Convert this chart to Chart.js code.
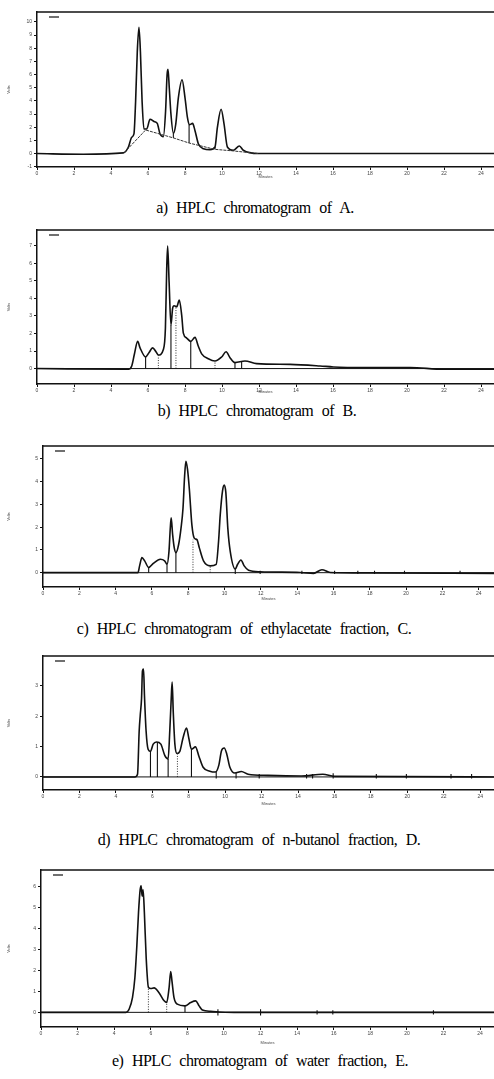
<!DOCTYPE html>
<html>
<head>
<meta charset="utf-8">
<script src="https://cdn.jsdelivr.net/npm/chart.js@4.4.1/dist/chart.umd.min.js"></script>
<style>
  body { margin: 0; background: #fff; }
  #page { position: relative; width: 494px; height: 1079px; overflow: hidden; }
  canvas { position: absolute; left: 0; }
  .cap { position: absolute; width: 500px; text-align: center; font-family: "Liberation Serif", "DejaVu Serif", serif;
         font-size: 16px; line-height: 18px; color: #000; white-space: nowrap; word-spacing: 5px; letter-spacing: -0.5px; }
</style>
</head>
<body>
<div id="page">
  <canvas id="ca"></canvas>
  <canvas id="cb"></canvas>
  <canvas id="cc"></canvas>
  <canvas id="cd"></canvas>
  <canvas id="ce"></canvas>
  <div class="cap" style="top:199px;left:5px">a) HPLC chromatogram of A.</div>
  <div class="cap" style="top:402px;left:7px">b) HPLC chromatogram of B.</div>
  <div class="cap" style="top:620px;left:-6px">c) HPLC chromatogram of ethylacetate fraction, C.</div>
  <div class="cap" style="top:831px;left:9px">d) HPLC chromatogram of n-butanol fraction, D.</div>
  <div class="cap" style="top:1052px;left:10px">e) HPLC chromatogram of water fraction, E.</div>
</div>
<script>
// tick labels
const timeTicks = [0, 2, 4, 6, 8, 10, 12, 14, 16, 18, 20, 22, 24];
const aLevels = [-1, 0, 1, 2, 3, 4, 5, 6, 7, 8, 9, 10];
const bLevels = [0, 1, 2, 3, 4, 5, 6, 7];
const cLevels = [0, 1, 2, 3, 4, 5];
const dLevels = [0, 1, 2, 3];
const eLevels = [0, 1, 2, 3, 4, 5, 6];

// a) retention time (min) and detector signal
const aTime = [0, 2.5, 4.67, 4.94, 5.12, 5.24, 5.33, 5.42, 5.51, 5.59, 5.68, 5.78, 5.93, 6.11, 6.32, 6.5, 6.65, 6.83, 6.95, 7.03,
  7.08, 7.15, 7.24, 7.37, 7.5, 7.64, 7.84, 8.0, 8.13, 8.23, 8.41, 8.54, 8.72, 9.0, 9.35, 9.62, 9.75, 9.95, 10.11, 10.29,
  10.61, 10.94, 11.15, 11.96, 24.7];
const aSignal = [0, -0.05, 0.05, 0.5, 1.24, 1.49, 3.98, 7.71, 9.58, 7.71, 3.98, 1.87, 1.87, 2.61, 2.44, 2.29, 1.49, 1.29, 3.23, 5.97,
  6.39, 4.98, 2.99, 1.54, 2.24, 4.23, 5.6, 4.23, 2.74, 2.19, 2.29, 1.74, 0.75, 0.37, 0.3, 0.5, 1.99, 3.36, 2.24, 0.5,
  0.25, 0.57, 0.25, 0, 0];
const aBaseT = [4.7, 5.87, 7.37, 8.22, 9.62, 10.61, 11.96];
const aBaseY = [0.05, 1.79, 1.19, 0.8, 0.32, 0.2, 0];
const aDropT = [7.37, 8.22, 9.62];
const aDropLo = [1.19, 0.8, 0.32];
const aDropHi = [1.54, 2.19, 0.5];
const aDotT = [];
const aDotHi = [];

// b)
const bTime = [0, 4.94, 5.12, 5.26, 5.44, 5.57, 5.87, 6.05, 6.25, 6.43, 6.56, 6.83, 6.94, 7.01, 7.06, 7.14, 7.24, 7.33, 7.41, 7.55,
  7.69, 7.82, 7.91, 8.09, 8.31, 8.54, 8.72, 8.9, 9.26, 9.62, 9.98, 10.22, 10.43, 10.7, 11.24, 11.87, 13.68, 15.3, 16.02, 17.82,
  20.16, 21.96, 24.7];
const bSignal = [0, -0.04, 0.15, 0.8, 1.55, 1.18, 0.66, 0.9, 1.18, 0.96, 0.77, 1.09, 2.3, 5.67, 6.98, 4.93, 2.49, 3.43, 3.58, 3.52,
  3.9, 3.05, 2.02, 1.74, 1.55, 1.78, 1.27, 0.84, 0.56, 0.43, 0.66, 0.96, 0.62, 0.34, 0.43, 0.28, 0.24, 0.15, 0.09, 0.06,
  0.06, -0.04, -0.04];
const bDropT = [5.87, 7.24, 8.31, 10.7, 11.06];
const bDropLo = [0, 0, 0, 0, 0];
const bDropHi = [0.66, 2.49, 1.55, 0.34, 0.42];
const bDotT = [6.56, 7.51, 9.62];
const bDotHi = [0.77, 3.52, 0.43];

// c) ethylacetate fraction
const cTime = [0, 5.23, 5.32, 5.45, 5.6, 5.82, 6.09, 6.46, 6.7, 6.83, 6.94, 7.01, 7.06, 7.14, 7.23, 7.32, 7.47, 7.6, 7.71, 7.8,
  7.87, 7.96, 8.06, 8.2, 8.33, 8.48, 8.61, 8.84, 9.21, 9.54, 9.67, 9.76, 9.89, 9.98, 10.07, 10.18, 10.31, 10.59, 10.72, 10.9,
  11.08, 11.32, 11.96, 14.17, 14.9, 15.36, 15.82, 17.83, 24.84];
const cSignal = [0, 0, 0.3, 0.66, 0.52, 0.23, 0.42, 0.59, 0.52, 0.37, 0.95, 1.95, 2.41, 1.67, 1.09, 0.88, 1.24, 1.95, 2.82, 4.25,
  4.9, 4.54, 3.68, 2.1, 1.52, 1.45, 1.09, 0.52, 0.3, 0.37, 1.38, 2.53, 3.61, 3.85, 3.53, 1.95, 0.95, 0.16, 0.37, 0.56,
  0.3, 0.11, 0.04, 0.01, -0.03, 0.13, 0.01, -0.01, -0.03];
const cDropT = [5.82, 6.83, 7.32, 10.59, 11.96, 14.26, 16.06, 17.34, 18.26, 19.91, 22.97];
const cDropLo = [0, 0, 0, -0.06, -0.06, -0.06, -0.06, -0.06, -0.06, -0.06, -0.06];
const cDropHi = [0.23, 0.37, 0.88, 0.16, 0.08, 0.08, 0.08, 0.08, 0.08, 0.08, 0.08];
const cDotT = [8.26, 9.21];
const cDotHi = [1.45, 0.3];

// d) n-butanol fraction
const dTime = [0, 5.04, 5.19, 5.28, 5.34, 5.41, 5.46, 5.52, 5.57, 5.66, 5.77, 5.9, 6.05, 6.23, 6.47, 6.69, 6.87, 6.96, 7.04, 7.09,
  7.15, 7.24, 7.36, 7.51, 7.69, 7.88, 8.0, 8.15, 8.37, 8.55, 8.79, 9.16, 9.47, 9.65, 9.8, 9.95, 10.09, 10.26, 10.53, 10.89,
  11.26, 12.35, 14.18, 15.36, 16.0, 24.76];
const dSignal = [0, 0, 0.09, 1.51, 2.04, 2.58, 3.49, 3.55, 2.69, 1.51, 0.91, 0.84, 1.08, 1.15, 1.08, 0.7, 0.59, 1.51, 2.58, 3.12,
  2.15, 1.08, 0.77, 0.84, 1.29, 1.61, 1.29, 0.91, 0.99, 0.7, 0.32, 0.19, 0.16, 0.38, 0.86, 0.95, 0.75, 0.32, 0.13, 0.18,
  0.09, 0.05, 0.03, 0.09, 0.02, 0];
const dDropT = [5.9, 6.28, 6.87, 8.15, 9.51, 10.6, 11.87, 14.47, 14.8, 15.93, 18.3, 19.95, 22.4, 23.53];
const dDropLo = [0, 0, 0, 0, -0.05, -0.05, -0.05, -0.05, -0.05, -0.05, -0.05, -0.05, -0.05, -0.05];
const dDropHi = [0.84, 1.14, 0.59, 0.91, 0.18, 0.15, 0.1, 0.1, 0.1, 0.12, 0.1, 0.1, 0.1, 0.1];
const dDotT = [7.38];
const dDotHi = [0.77];

// e) water fraction
const eTime = [0, 4.64, 4.82, 5.0, 5.13, 5.24, 5.33, 5.42, 5.47, 5.53, 5.58, 5.65, 5.75, 5.87, 6.0, 6.18, 6.45, 6.73, 6.87, 7.0,
  7.09, 7.16, 7.27, 7.45, 7.87, 8.18, 8.45, 8.64, 8.82, 9.27, 10.55, 24.76];
const eSignal = [0, 0, 0.16, 0.7, 1.64, 3.2, 4.77, 5.86, 6.05, 5.55, 5.86, 4.77, 2.58, 1.2, 1.14, 1.17, 0.94, 0.55, 0.47, 1.17,
  1.95, 1.48, 0.7, 0.39, 0.31, 0.47, 0.55, 0.31, 0.11, 0.05, 0, 0];
const eDropT = [7.87, 9.67, 12.0, 15.09, 15.95, 21.45];
const eDropLo = [0, -0.15, -0.15, -0.1, -0.1, -0.1];
const eDropHi = [0.31, 0.15, 0.15, 0.1, 0.1, 0.1];
const eDotT = [5.87, 6.87];
const eDotHi = [1.2, 0.47];

const INK = '#111';

// top border of the plot box and the little legend dash
const frame = {
  id: 'frame',
  afterDraw(chart) {
    const { ctx, chartArea: ar } = chart;
    ctx.save();
    ctx.strokeStyle = INK;
    ctx.lineWidth = 1.5;
    ctx.beginPath();
    ctx.moveTo(ar.left, ar.top);
    ctx.lineTo(ar.right, ar.top);
    ctx.stroke();
    ctx.lineWidth = 1.2;
    ctx.beginPath();
    ctx.moveTo(ar.left + 12, ar.top + 5);
    ctx.lineTo(ar.left + 22, ar.top + 5);
    ctx.stroke();
    ctx.restore();
  }
};

function pts(xs, ys) {
  return xs.map((x, i) => ({ x: x, y: ys[i] }));
}

function segs(ts, lo, hi) {
  const out = [];
  ts.forEach((t, i) => {
    out.push({ x: t, y: lo[i] }, { x: t, y: hi[i] }, { x: t, y: null });
  });
  return out;
}

function drawPanel(id, p) {
  const cv = document.getElementById(id);
  cv.width = 494;
  cv.height = p.boxH + 2 + p.xh;
  cv.style.top = (p.top - 2) + 'px';

  const datasets = [];
  if (p.zeroLine) {
    datasets.push({ data: pts([0, p.xmax], [0, 0]), borderColor: INK, borderWidth: 1 });
  }
  if (p.baseT) {
    datasets.push({ data: pts(p.baseT, p.baseY), borderColor: '#333', borderWidth: 1, borderDash: [3, 1] });
  }
  datasets.push({ data: segs(p.dropT, p.dropLo, p.dropHi), borderColor: INK, borderWidth: 1.1, spanGaps: false });
  datasets.push({ data: segs(p.dotT, p.dotT.map(() => 0), p.dotHi), borderColor: '#333', borderWidth: 1,
    borderDash: [1, 1.5], spanGaps: false });
  datasets.push({ data: pts(p.time, p.signal), borderColor: INK, borderWidth: 1.6, cubicInterpolationMode: 'monotone' });

  new Chart(cv, {
    type: 'line',
    data: { datasets: datasets },
    options: {
      responsive: false,
      animation: false,
      events: [],
      devicePixelRatio: 1,
      layout: { padding: { top: 2, right: 0, left: 0, bottom: 0 } },
      elements: { point: { radius: 0 }, line: { tension: 0 } },
      plugins: { legend: { display: false }, tooltip: { enabled: false } },
      scales: {
        x: {
          type: 'linear', min: 0, max: p.xmax,
          afterFit: s => { s.height = p.xh; },
          afterBuildTicks: s => { s.ticks = timeTicks.map(v => ({ value: v })); },
          border: { display: true, color: INK, width: 1.5 },
          grid: { drawOnChartArea: false, drawTicks: true, tickLength: 3, color: INK },
          ticks: { padding: 1, color: '#444', font: { size: 5, family: 'Liberation Sans' },
                   maxRotation: 0, autoSkip: false },
          title: { display: true, text: 'Minutes', color: '#444', padding: 0,
                   font: { size: 4, family: 'Liberation Sans' } }
        },
        y: {
          min: p.ymin, max: p.ymax,
          afterFit: s => { s.width = p.left; },
          afterBuildTicks: s => { s.ticks = p.levels.map(v => ({ value: v })); },
          border: { display: true, color: INK, width: 1.5 },
          grid: { drawOnChartArea: false, drawTicks: true, tickLength: 3, color: INK },
          ticks: { padding: 2, color: '#444', font: { size: 5, family: 'Liberation Sans' } },
          title: { display: true, text: 'Volts', color: '#444', padding: { top: 6, bottom: 0 },
                   font: { size: 4, family: 'Liberation Sans' } }
        }
      }
    },
    plugins: [frame]
  });
}

drawPanel('ca', { top: 9, boxH: 158, xh: 12, left: 37, xmax: 24.7, ymin: -1.02, ymax: 10.75, levels: aLevels,
  time: aTime, signal: aSignal, baseT: aBaseT, baseY: aBaseY,
  dropT: aDropT, dropLo: aDropLo, dropHi: aDropHi, dotT: aDotT, dotHi: aDotHi });
drawPanel('cb', { top: 227, boxH: 157, xh: 10, left: 37, xmax: 24.7, ymin: -0.88, ymax: 7.9, levels: bLevels, zeroLine: true,
  time: bTime, signal: bSignal, dropT: bDropT, dropLo: bDropLo, dropHi: bDropHi, dotT: bDotT, dotHi: bDotHi });
drawPanel('cc', { top: 443, boxH: 144, xh: 14, left: 43, xmax: 24.84, ymin: -0.63, ymax: 5.57, levels: cLevels, zeroLine: true,
  time: cTime, signal: cSignal, dropT: cDropT, dropLo: cDropLo, dropHi: cDropHi, dotT: cDotT, dotHi: cDotHi });
drawPanel('cd', { top: 653, boxH: 137, xh: 16, left: 43, xmax: 24.76, ymin: -0.43, ymax: 3.98, levels: dLevels, zeroLine: true,
  time: dTime, signal: dSignal, dropT: dDropT, dropLo: dDropLo, dropHi: dDropHi, dotT: dDotT, dotHi: dDotHi });
drawPanel('ce', { top: 867, boxH: 160, xh: 18, left: 41, xmax: 24.76, ymin: -0.7, ymax: 6.8, levels: eLevels, zeroLine: true,
  time: eTime, signal: eSignal, dropT: eDropT, dropLo: eDropLo, dropHi: eDropHi, dotT: eDotT, dotHi: eDotHi });
</script>
</body>
</html>
